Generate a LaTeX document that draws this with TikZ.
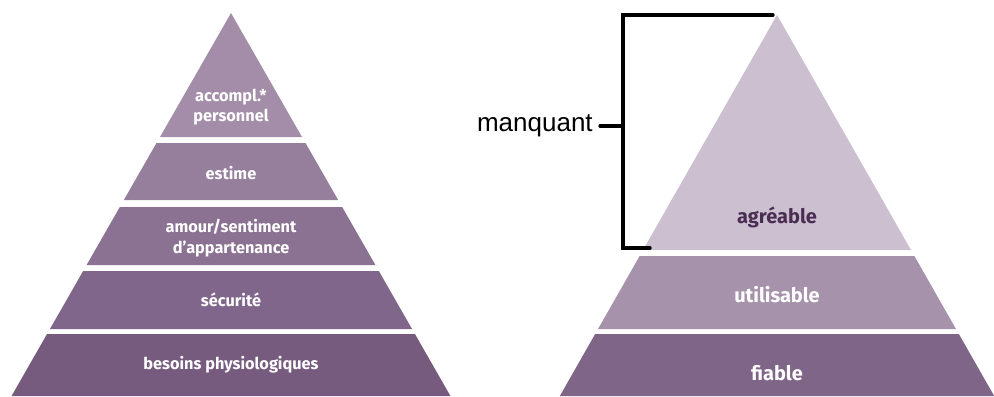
\documentclass[tikz,border=0pt]{standalone}
\usepackage{fontspec}
\setmainfont{Fira Sans}
\newfontfamily\armfont{Liberation Sans}
\usetikzlibrary{positioning}

\definecolor{lvlA}{HTML}{A38DA9}
\definecolor{lvlB}{HTML}{967E9D}
\definecolor{lvlC}{HTML}{8B7292}
\definecolor{lvlD}{HTML}{80668A}
\definecolor{lvlE}{HTML}{765B7F}
\definecolor{topR}{HTML}{CBBFD0}
\definecolor{midR}{HTML}{A792AC}
\definecolor{lowR}{HTML}{7F6587}
\definecolor{darklbl}{HTML}{4A2D52}

\tikzset{
  lbl/.style={text=white, font=\bfseries\fontsize{11.6}{14.5}\selectfont, align=center},
  biglbl/.style={text=white, font=\bfseries\fontsize{14.2}{17}\selectfont},
  bracket/.style={black, line width=2.4pt, line cap=round}
}

\begin{document}
\begin{tikzpicture}[x=0.025cm, y=-0.025cm]
  \useasboundingbox (0,0) rectangle (994,396);

  % left pyramid
  \fill[lvlA] (231,13) -- (302,137) -- (160,137) -- cycle;
  \foreach \ya/\yb/\col in {143/200/lvlB, 207/265/lvlC, 271/329/lvlD, 334/396/lvlE}
    \fill[\col] ({231-0.573*(\ya-13)},\ya) -- ({231+0.573*(\ya-13)},\ya)
             -- ({231+0.573*(\yb-13)},\yb) -- ({231-0.573*(\yb-13)},\yb) -- cycle;

  \node[lbl] (acc) at (231,107) {accompl.*\\personnel};
  \node[lbl] (est) at (231,173) {estime};
  \node[lbl] (amo) at (231,238) {amour/sentiment\\d'appartenance};
  \node[lbl] (sec) at (231,300) {sécurité};
  \node[lbl] (bes) at (231,365) {besoins physiologiques};

  % right pyramid
  \fill[topR] (777,15) -- (911,250) -- (643,250) -- cycle;
  \foreach \ya/\yb/\col in {256/329/midR, 334/396/lowR}
    \fill[\col] ({777-0.57*(\ya-15)},\ya) -- ({777+0.57*(\ya-15)},\ya)
             -- ({777+0.57*(\yb-15)},\yb) -- ({777-0.57*(\yb-15)},\yb) -- cycle;

  \node[biglbl, text=darklbl] (agr) at (777,217) {agréable};
  \node[biglbl] (uti) at (777,295) {utilisable};
  \node[biglbl] (fia) at (777,373) {fiable};

  % bracket
  \coordinate (rapex) at (773,15);
  \coordinate (brk) at (623,126);
  \coordinate (rbot) at (650,248);
  \node[anchor=east, inner sep=0pt, font=\armfont\fontsize{18.5}{21}\selectfont] (manq) at (593,126) {manquant};
  \draw[bracket] (rapex) -| (brk) |- (rbot);
  \draw[bracket] ([xshift=5pt]manq.east) -- (brk);
\end{tikzpicture}
\end{document}
